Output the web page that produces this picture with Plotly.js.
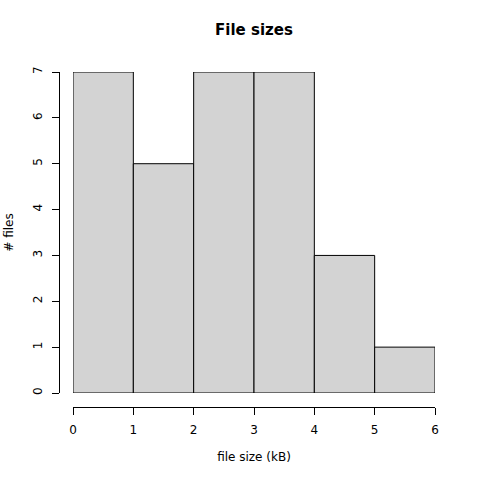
<!DOCTYPE html>
<html>
<head>
<meta charset="utf-8">
<script src="https://cdn.plot.ly/plotly-3.0.1.min.js"></script>
<style>
  html, body { margin: 0; padding: 0; background: #fff; }
  #chart { width: 480px; height: 480px; }
</style>
</head>
<body>
<div id="chart"></div>
<script>
// Histogram of file sizes: bin edges (kB) and counts per bin
const binStarts = [0, 1, 2, 3, 4, 5];
const binWidth = 1;
const counts = [7, 5, 7, 7, 3, 1];
const xTicks = [0, 1, 2, 3, 4, 5, 6];
const yTicks = [0, 1, 2, 3, 4, 5, 6, 7];

const centers = binStarts.map(s => s + binWidth / 2);

const bars = {
  type: 'bar',
  x: centers,
  y: counts,
  width: binWidth,
  marker: { color: '#d3d3d3', line: { color: '#000', width: 1 } },
  hoverinfo: 'skip'
};

// Empty trace that binds the label axes so they get drawn
const labelHolder = {
  type: 'scatter', mode: 'markers',
  x: [], y: [],
  xaxis: 'x2', yaxis: 'y2',
  hoverinfo: 'skip', showlegend: false
};

const font = { family: 'DejaVu Sans, sans-serif', size: 12, color: '#000' };

// Paper area: left 50px, right 45px, top 72px, bottom 65px -> 385 x 343
const PW = 385, PH = 343;
const xDomain = [23 / PW, 1];
const yDomain = [22 / PH, 1];

// Axis lines sit detached from the bars (R-style); label axes are
// slightly further out so numbers clear the tick marks.
const lineAxis = {
  showline: true, linecolor: '#000', linewidth: 1,
  ticks: 'outside', ticklen: 7, tickcolor: '#000', tickwidth: 1,
  showticklabels: false, showgrid: false, zeroline: false
};
const labelAxis = {
  showline: false,
  ticks: 'outside', ticklen: 7, tickcolor: 'rgba(0,0,0,0)', tickwidth: 1,
  showticklabels: true, showgrid: false, zeroline: false,
  tickfont: font
};

const layout = {
  width: 480,
  height: 480,
  margin: { l: 50, r: 45, t: 72, b: 65, pad: 0 },
  paper_bgcolor: '#fff',
  plot_bgcolor: '#fff',
  showlegend: false,
  bargap: 0,
  font: font,
  title: {
    text: '<b>File sizes</b>',
    font: { family: 'DejaVu Sans, sans-serif', size: 15, color: '#000' },
    xref: 'container', x: 254 / 480, xanchor: 'center',
    yref: 'container', y: 1 - 30 / 480, yanchor: 'middle'
  },
  xaxis: Object.assign({}, lineAxis, {
    range: [0, 6], domain: xDomain,
    anchor: 'free', position: 8 / PH,
    tickvals: xTicks
  }),
  xaxis2: Object.assign({}, labelAxis, {
    range: [0, 6], domain: xDomain,
    overlaying: 'x', anchor: 'free', position: 3 / PH, side: 'bottom',
    tickvals: xTicks,
    title: { text: 'file size (kB)', font: font, standoff: 16 }
  }),
  yaxis: Object.assign({}, lineAxis, {
    range: [0, 7], domain: yDomain,
    anchor: 'free', position: 9 / PW,
    tickvals: yTicks
  }),
  yaxis2: Object.assign({}, labelAxis, {
    range: [0, 7], domain: yDomain,
    overlaying: 'y', anchor: 'free', position: 4 / PW, side: 'left',
    tickvals: yTicks, tickangle: -90,
    title: { text: '# files', font: font, standoff: 14 }
  })
};

Plotly.newPlot('chart', [bars, labelHolder], layout, { staticPlot: true, displayModeBar: false });
</script>
</body>
</html>
